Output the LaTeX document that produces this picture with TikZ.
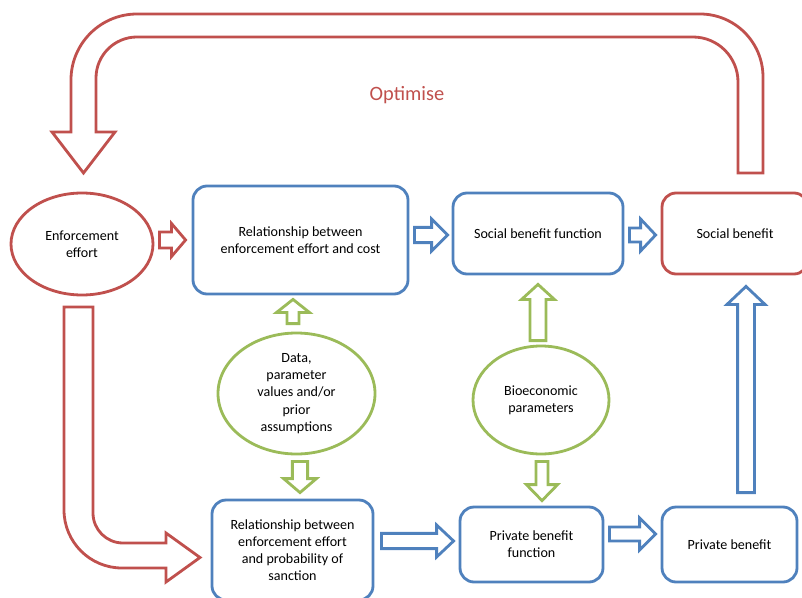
\documentclass[tikz,border=0pt]{standalone}
\usepackage{fontspec}
\setmainfont{Carlito}
\usetikzlibrary{shapes.geometric,calc}

\definecolor{ored}{HTML}{C0504D}
\definecolor{oblue}{HTML}{4F81BD}
\definecolor{ogreen}{HTML}{9BBB59}

\tikzset{
  txt/.style={align=center,inner sep=0pt,font=\fontsize{10}{12.2}\selectfont},
  bluebox/.style={txt,draw=oblue,line width=2pt,fill=white,rounded corners=10pt},
  redbox/.style={bluebox,draw=ored},
  redoval/.style={txt,ellipse,draw=ored,line width=2pt,fill=white},
  greenoval/.style={redoval,draw=ogreen},
  redline/.style={draw=ored,line width=2pt,fill=white,line join=miter},
  blueline/.style={redline,draw=oblue},
  greenline/.style={redline,draw=ogreen}
}

% #1 style, #2 tail, #3 tip, #4 half shaft, #5 half head, #6 head length
\newcommand{\blockarrow}[6]{%
  \draw[#1] ($(#2)!#4!90:(#3)$) -- ($(#3)!#6!(#2)!#4!-90:(#2)$)
    -- ($(#3)!#6!(#2)!#5!-90:(#2)$) -- (#3)
    -- ($(#3)!#6!(#2)!#5!90:(#2)$) -- ($(#3)!#6!(#2)!#4!90:(#2)$)
    -- ($(#2)!#4!-90:(#3)$) -- cycle;
}

\begin{document}
\begin{tikzpicture}[x=0.025cm,y=-0.025cm]
\useasboundingbox (0,0) rectangle (802,598);

% optimise loop
\draw[redline] (763,173) -- (763,77) arc[start angle=0,end angle=90,radius=1.575cm]
  -- (137,14) arc[start angle=90,end angle=180,radius=1.65cm]
  -- (71,132) -- (52,132) -- (83.5,173) -- (115,132) -- (96,132)
  -- (96,78) arc[start angle=180,end angle=90,radius=1.025cm]
  -- (693,37) arc[start angle=90,end angle=0,radius=1.125cm]
  -- (738,173) -- cycle;
\node[txt,text=ored,font=\fontsize{14.5}{17}\selectfont] (opt) at (407,95) {Optimise};

% effort down to probability
\draw[redline] (64,307) -- (64,510) arc[start angle=180,end angle=270,radius=1.45cm]
  -- (166,568) -- (166,582) -- (200,557.5) -- (166,533) -- (166,543)
  -- (123,543) arc[start angle=270,end angle=180,radius=0.75cm]
  -- (93,307) -- cycle;

% nodes
\node[redoval,minimum width=142*0.025cm,minimum height=102*0.025cm] (ee) at (82,244) {Enforcement\\effort};
\node[bluebox,minimum width=215*0.025cm,minimum height=108*0.025cm] (rc) at (300.5,240) {Relationship between\\enforcement effort and cost};
\node[bluebox,minimum width=170*0.025cm,minimum height=81*0.025cm] (sbf) at (538,233.5) {Social benefit function};
\node[redbox,minimum width=146*0.025cm,minimum height=81*0.025cm] (sb) at (735,233.5) {Social benefit};
\node[greenoval,minimum width=157*0.025cm,minimum height=121*0.025cm] (data) at (296.5,393.5) {Data,\\parameter\\values and/or\\prior\\assumptions};
\node[greenoval,minimum width=136*0.025cm,minimum height=108*0.025cm] (bio) at (541,400) {Bioeconomic\\parameters};
\node[bluebox,minimum width=161*0.025cm,minimum height=100*0.025cm] (rp) at (292.5,550) {Relationship between\\enforcement effort\\and probability of\\sanction};
\node[bluebox,minimum width=143*0.025cm,minimum height=75*0.025cm] (pbf) at (531.5,544.5) {Private benefit\\function};
\node[bluebox,minimum width=135*0.025cm,minimum height=75*0.025cm] (pb) at (729.5,544.5) {Private benefit};

% tips and tails
\coordinate (t1) at ($(rc.west)+(-6,0)$);
\coordinate (s1) at ($(ee.east |- t1)+(5,0)$);
\coordinate (t2) at ($(sbf.west)+(-4,1.5)$);
\coordinate (s2) at ($(rc.east |- t2)+(5,0)$);
\coordinate (t3) at ($(sb.west)+(-5,1.5)$);
\coordinate (s3) at ($(sbf.east |- t3)+(5,0)$);
\coordinate (t4) at ($(pbf.west)+(-5,-3.5)$);
\coordinate (s4) at ($(rp.east |- t4)+(7,0)$);
\coordinate (t5) at ($(pb.west)+(-5,-10.5)$);
\coordinate (s5) at ($(pbf.east |- t5)+(5,0)$);
\coordinate (t6) at ($(rc.south)+(-7.5,4)$);
\coordinate (s6) at ($(t6 |- data.north)+(0,-8)$);
\coordinate (t7) at ($(rp.north)+(7.5,-6)$);
\coordinate (s7) at ($(t7 |- data.south)+(0,6)$);
\coordinate (t8) at ($(sbf.south)+(0,9)$);
\coordinate (s8) at ($(t8 |- bio.north)+(0,-4)$);
\coordinate (t9) at ($(pbf.north)+(10.5,-5)$);
\coordinate (s9) at ($(t9 |- bio.south)+(0,6)$);
\coordinate (t10) at ($(sb.south)+(11,11)$);
\coordinate (s10) at ($(t10 |- pb.north)+(0,-13)$);

\blockarrow{redline}{s1}{t1}{0.2cm}{0.41cm}{0.35cm}
\blockarrow{blueline}{s2}{t2}{0.19cm}{0.4cm}{0.4cm}
\blockarrow{blueline}{s3}{t3}{0.175cm}{0.4cm}{0.375cm}
\blockarrow{blueline}{s4}{t4}{0.19cm}{0.4cm}{0.425cm}
\blockarrow{blueline}{s5}{t5}{0.175cm}{0.4cm}{0.4cm}
\blockarrow{greenline}{s6}{t6}{0.15cm}{0.41cm}{0.325cm}
\blockarrow{greenline}{s7}{t7}{0.19cm}{0.41cm}{0.35cm}
\blockarrow{greenline}{s8}{t8}{0.2cm}{0.41cm}{0.375cm}
\blockarrow{greenline}{s9}{t9}{0.15cm}{0.39cm}{0.4cm}
\blockarrow{blueline}{s10}{t10}{0.21cm}{0.475cm}{0.45cm}
\end{tikzpicture}
\end{document}
